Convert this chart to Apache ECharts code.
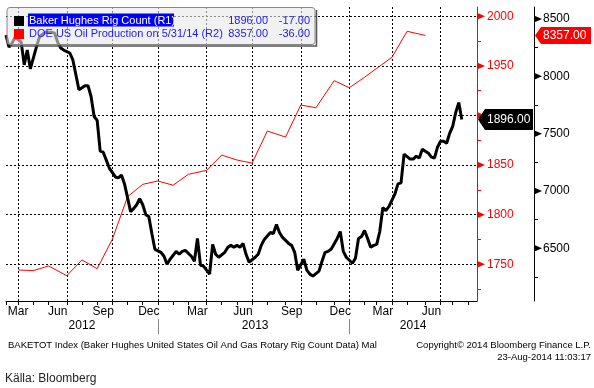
<!DOCTYPE html>
<html><head><meta charset="utf-8">
<script src="https://cdn.jsdelivr.net/npm/echarts@6/dist/echarts.min.js"></script>
<style>html,body{margin:0;padding:0;background:#fff}#c{width:594px;height:388px}</style>
</head><body><div id="c"></div>
<script>
// ---------------- DATA ----------------
// Baker Hughes US rig count, weekly (Fridays) starting 2012-03-09
const rigFirstFriday = [2012, 2, 9];
const rigCount = [
  1981,1969,1973,1979,
  1974,1951,1966,1947,
  1969,1979,1982,1984,
  1984,1983,1974,1968,1966,
  1963,1956,1941,1926,
  1930,1930,1919,1899,1895,
  1864,1863,1855,1847,
  1838,1837,1840,1831,
  1803,1806,1810,1816,1810,
  1800,1798,1781,1765,
  1762,1758,1750,1755,
  1763,1760,1763,1764,
  1758,1753,1776,1749,1748,
  1740,1770,1760,1757,
  1762,1767,1769,1767,1769,
  1767,1771,1760,1752,
  1757,1760,1769,1775,
  1782,1781,1790,1782,1777,
  1771,1769,1762,1744,
  1755,1744,1740,1738,
  1743,1753,1762,1763,1765,
  1776,1783,1763,1757,
  1751,1756,1776,1778,1784,
  1776,1767,1769,1770,
  1783,1807,1804,1808,
  1821,1831,1832,1861,
  1856,1856,1859,1857,1866,
  1862,1858,1857,1868,
  1874,1874,1872,1882,
  1889,1903,1913,1896
];
const futureWeeks = 5;
// DOE US oil production, month-end values starting March 2012
const oilFirstMonth = [2012, 2];
const oilProduction = [
  6311,6305,6346,6261,6398,6322,6579,6950,7058,7087,
  7050,7145,7180,7313,7270,7243,7523,7470,7750,7726,7962,7901,
  7992,8070,8166,8393,8357
];
const rigAxisLabels = [1750, 1800, 1850, 1900, 1950, 2000];
const rigAxisMinor = [1725, 1775, 1825, 1875, 1925, 1975];
const oilAxisLabels = [6500, 7000, 7500, 8000, 8500];
const oilAxisMinor = [6250, 6750, 7250, 7750, 8250];
const monthNames = ['Jan','Feb','Mar','Apr','May','Jun','Jul','Aug','Sep','Oct','Nov','Dec'];
const labelledMonths = [2, 5, 8, 11];
const years = [2012, 2013, 2014];
const rigName = 'Baker Hughes Rig Count (R1)';
const oilName = 'DOE US Oil Production on 5/31/14 (R2)';

// ---------------- BUILD CATEGORIES ----------------
const DAY = 86400000;
const FONT = "'Liberation Sans', Arial, sans-serif";
const rigDates = [];
for (let i = 0; i < rigCount.length + futureWeeks; i++)
  rigDates.push(Date.UTC(rigFirstFriday[0], rigFirstFriday[1], rigFirstFriday[2]) + i * 7 * DAY);
const oilDates = oilProduction.map((_, k) => Date.UTC(oilFirstMonth[0], oilFirstMonth[1] + k + 1, 0));
const allTimes = Array.from(new Set(rigDates.concat(oilDates))).sort((a, b) => a - b);
const categories = allTimes.map(t => new Date(t).toISOString().slice(0, 10));
const idxOf = new Map(allTimes.map((t, i) => [t, i]));
const rigSeries = allTimes.map(() => null);
rigCount.forEach((v, i) => { rigSeries[idxOf.get(rigDates[i])] = v; });
const oilSeries = allTimes.map(() => null);
oilProduction.forEach((v, k) => { oilSeries[idxOf.get(oilDates[k])] = v; });

function firstOnOrAfter(t) { for (let i = 0; i < allTimes.length; i++) if (allTimes[i] >= t) return i; return -1; }
const monthTick = new Set(), gridTick = new Set(), yearSep = new Set();
const monthLabel = new Map(), yearLabel = new Map();
years.forEach(y => {
  for (let m = 0; m < 12; m++) {
    const end = Date.UTC(y, m + 1, 0);
    if (end < allTimes[0] - 14 * DAY) continue;
    const ei = firstOnOrAfter(end);
    if (ei < 0) continue;
    monthTick.add(ei);
    if (labelledMonths.includes(m)) {
      gridTick.add(ei);
      const mid = Date.UTC(y, m, 15);
      let best = -1, bd = Infinity;
      allTimes.forEach((t, i) => { const d = Math.abs(t - mid); if (d < bd) { bd = d; best = i; } });
      if (best < 3) best = ei;
      monthLabel.set(best, monthNames[m]);
    }
    if (m === 11) yearSep.add(ei);
  }
  const inYear = allTimes.map((t, i) => [t, i]).filter(p => new Date(p[0]).getUTCFullYear() === y).map(p => p[1]);
  if (inYear.length) yearLabel.set(Math.floor((inYear[0] + inYear[inYear.length - 1]) / 2), String(y));
});

// ---------------- CHART ----------------
const chart = echarts.init(document.getElementById('c'), null, {renderer: 'canvas'});
const G = {left: 6, right: 117, top: 7, bottom: 87};
const rigMin = 1712.9, rigMax = 2009.4, oilMin = 6040, oilMax = 8605;
const dashed = {color: '#000', type: [2, 2], width: 1};
const plain = v => String(Math.round(v));

chart.setOption({
  animation: false,
  backgroundColor: '#fff',
  grid: Object.assign({outerBoundsMode: 'none', containLabel: false}, G),
  xAxis: [{
    type: 'category', data: categories, boundaryGap: false, position: 'bottom',
    axisLine: {show: true, lineStyle: {color: '#000', width: 1}},
    axisTick: {show: true, interval: i => monthTick.has(i), length: 4, lineStyle: {color: '#000'}},
    axisLabel: {interval: i => monthLabel.has(i), formatter: (v, i) => monthLabel.get(i) || '',
      margin: 5, color: '#000', fontSize: 12, fontFamily: FONT},
    splitLine: {show: true, interval: i => gridTick.has(i), lineStyle: dashed}
  }, {
    type: 'category', data: categories, boundaryGap: false, position: 'bottom', offset: 18,
    axisLine: {show: false},
    axisTick: {show: true, interval: i => yearSep.has(i), length: 15, lineStyle: {color: '#888'}},
    axisLabel: {interval: i => yearLabel.has(i), formatter: (v, i) => yearLabel.get(i) || '',
      margin: 1, color: '#000', fontSize: 12, fontFamily: FONT},
    splitLine: {show: false}
  }],
  yAxis: [{
    type: 'value', position: 'right', min: rigMin, max: rigMax,
    axisLine: {show: true, lineStyle: {color: '#ff0000'}},
    axisTick: {show: false, customValues: rigAxisLabels},
    axisLabel: {customValues: rigAxisLabels, formatter: plain, margin: 10, color: '#ff0000', fontSize: 12, fontFamily: FONT},
    splitLine: {show: true, lineStyle: dashed}
  }, {
    type: 'value', position: 'right', min: rigMin, max: rigMax,
    axisLine: {show: false},
    axisTick: {show: true, customValues: rigAxisMinor, length: 4, lineStyle: {color: '#ff0000'}},
    axisLabel: {show: false}, splitLine: {show: false}
  }, {
    type: 'value', position: 'right', offset: 57, min: oilMin, max: oilMax,
    axisLine: {show: true, lineStyle: {color: '#000'}},
    axisTick: {show: true, customValues: oilAxisMinor, length: 4, lineStyle: {color: '#000'}},
    axisLabel: {customValues: oilAxisLabels, formatter: plain, margin: 9, color: '#000', fontSize: 12, fontFamily: FONT},
    splitLine: {show: false}
  }],
  series: [{
    name: oilName, type: 'line', yAxisIndex: 2, data: oilSeries, connectNulls: true,
    symbol: 'none', lineStyle: {color: '#ff0000', width: 1}, z: 2
  }, {
    name: rigName, type: 'line', yAxisIndex: 0, data: rigSeries, connectNulls: true,
    symbol: 'none', lineStyle: {color: '#000', width: 3}, z: 3
  }]
});

// ---------------- DECORATIONS ----------------
const rigAxisX = 594 - G.right;
const oilAxisX = rigAxisX + 57;
const g = [];
rigAxisLabels.forEach(v => {
  const y = chart.convertToPixel({yAxisIndex: 0}, v);
  g.push({type: 'polygon', z: 50, shape: {points: [[rigAxisX, y - 3.5], [rigAxisX + 8, y], [rigAxisX, y + 3.5]]}, style: {fill: '#ff0000'}});
});
oilAxisLabels.forEach(v => {
  const y = chart.convertToPixel({yAxisIndex: 2}, v);
  g.push({type: 'polygon', z: 50, shape: {points: [[oilAxisX, y - 3.5], [oilAxisX + 8, y], [oilAxisX, y + 3.5]]}, style: {fill: '#000'}});
});
const rigLast = rigCount[rigCount.length - 1], rigPrev = rigCount[rigCount.length - 2];
const oilLast = oilProduction[oilProduction.length - 1], oilPrev = oilProduction[oilProduction.length - 2];
const yRig = chart.convertToPixel({yAxisIndex: 0}, rigLast);
const yOil = chart.convertToPixel({yAxisIndex: 2}, oilLast);
g.push({type: 'polygon', z: 60, shape: {points: [[rigAxisX + 1, yRig], [rigAxisX + 8, yRig - 10.5], [rigAxisX + 56, yRig - 10.5], [rigAxisX + 56, yRig + 10.5], [rigAxisX + 8, yRig + 10.5]]}, style: {fill: '#000'}});
g.push({type: 'text', z: 61, x: rigAxisX + 10, y: yRig, style: {text: rigLast.toFixed(2), fill: '#fff', font: '12px ' + FONT, verticalAlign: 'middle'}});
g.push({type: 'polygon', z: 60, shape: {points: [[oilAxisX + 1, yOil], [oilAxisX + 7, yOil - 8.5], [oilAxisX + 57, yOil - 8.5], [oilAxisX + 57, yOil + 8.5], [oilAxisX + 7, yOil + 8.5]]}, style: {fill: '#ff0000'}});
g.push({type: 'text', z: 61, x: oilAxisX + 9, y: yOil, style: {text: oilLast.toFixed(2), fill: '#fff', font: '12px ' + FONT, verticalAlign: 'middle'}});

// legend box
g.push({type: 'rect', z: 70, shape: {x: 7, y: 7.5, width: 308, height: 37, r: 3}, style: {fill: 'rgba(232,232,232,0.6)', stroke: '#888', lineWidth: 1}});
g.push({type: 'polyline', z: 70, shape: {points: [[316.5, 10], [316.5, 46], [10, 46]]}, style: {stroke: '#555', lineWidth: 1.5, fill: null}});
g.push({type: 'rect', z: 71, shape: {x: 14, y: 16, width: 10, height: 10}, style: {fill: '#000'}});
g.push({type: 'rect', z: 71, shape: {x: 14, y: 29, width: 10, height: 10}, style: {fill: '#ff0000'}});
g.push({type: 'rect', z: 71, shape: {x: 28, y: 13.5, width: 146, height: 13}, style: {fill: '#0000ff'}});
const legFont = '11px ' + FONT;
const blue = '#1a1aff';
g.push({type: 'text', z: 72, x: 29, y: 20.5, style: {text: rigName, fill: '#fff', font: legFont, verticalAlign: 'middle'}});
g.push({type: 'text', z: 72, x: 29, y: 34, style: {text: oilName, fill: blue, font: legFont, verticalAlign: 'middle'}});
g.push({type: 'text', z: 72, x: 268, y: 20.5, style: {text: rigLast.toFixed(2), fill: blue, font: legFont, align: 'right', verticalAlign: 'middle'}});
g.push({type: 'text', z: 72, x: 268, y: 34, style: {text: oilLast.toFixed(2), fill: blue, font: legFont, align: 'right', verticalAlign: 'middle'}});
g.push({type: 'text', z: 72, x: 310, y: 20.5, style: {text: (rigLast - rigPrev).toFixed(2), fill: blue, font: legFont, align: 'right', verticalAlign: 'middle'}});
g.push({type: 'text', z: 72, x: 310, y: 34, style: {text: (oilLast - oilPrev).toFixed(2), fill: blue, font: legFont, align: 'right', verticalAlign: 'middle'}});

// footer texts
const footFont = '9.5px ' + FONT;
g.push({type: 'text', z: 10, x: 8, y: 345, style: {text: 'BAKETOT Index (Baker Hughes United States Oil And Gas Rotary Rig Count Data) Mal', fill: '#000', font: footFont, verticalAlign: 'middle'}});
g.push({type: 'text', z: 10, x: 591, y: 345, style: {text: 'Copyright\u00a9 2014 Bloomberg Finance L.P.', fill: '#000', font: footFont, align: 'right', verticalAlign: 'middle'}});
g.push({type: 'text', z: 10, x: 591, y: 357, style: {text: '23-Aug-2014 11:03:17', fill: '#000', font: footFont, align: 'right', verticalAlign: 'middle'}});
g.push({type: 'text', z: 10, x: 5, y: 379, style: {text: 'K\u00e4lla: Bloomberg', fill: '#222', font: '12px ' + FONT, verticalAlign: 'middle'}});

chart.setOption({graphic: {elements: g}});
</script>
</body></html>
